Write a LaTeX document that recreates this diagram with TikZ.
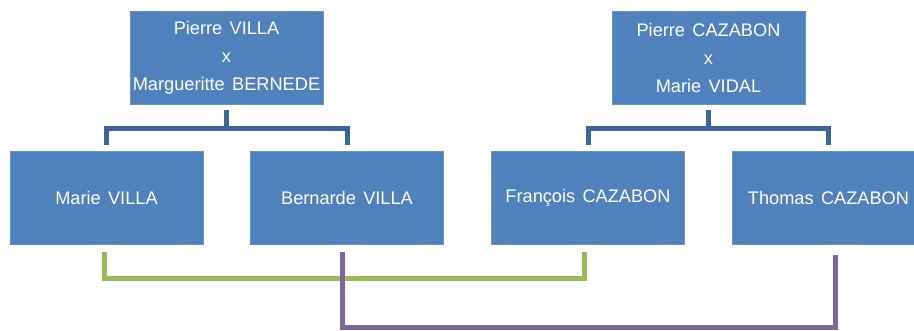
\documentclass[tikz,border=0pt]{standalone}
\usepackage{fontspec}
\setmainfont{Liberation Sans}[WordSpace={1.45,0.3,0.2}]
\definecolor{boxblue}{HTML}{4F81BD}
\definecolor{linkblue}{HTML}{3C6699}
\definecolor{linkgreen}{HTML}{9BBB59}
\definecolor{linkpurple}{HTML}{8064A2}
\begin{document}
\begin{tikzpicture}[x=1pt,y=-1pt,
  person/.style={rectangle, fill=boxblue, draw=boxblue!85!white, line width=0.6pt, minimum width=193pt, minimum height=93pt, inner sep=0pt, text=white, align=center, font=\fontsize{18.2}{28}\selectfont},
  famlink/.style={draw=linkblue, line width=5pt, line join=miter, shorten <=6pt, shorten >=6pt},
  greenlink/.style={draw=linkgreen, line width=5pt, line join=miter, shorten <=7pt},
  purplelink/.style={draw=linkpurple, line width=5pt, line join=miter, shorten <=7pt, shorten >=10pt}]
\useasboundingbox (0,0) rectangle (914,330);
\fill[white] (0,0) rectangle (914,330);
\node[person] (pv) at (226.5,57.5) {Pierre VILLA\\x\\Margueritte BERNEDE};
\node[person] (pc) at (708.5,57.5) {Pierre CAZABON\\x\\Marie VIDAL};
\node[person] (mv) at (106.5,198) {Marie VILLA};
\node[person] (bv) at (347,198) {Bernarde VILLA};
\node[person] (fc) at (588,198) {François CAZABON};
\node[person] (tc) at (828.5,198) {Thomas CAZABON};
\draw[famlink] (pv.south) -- ++(0,24) -| (mv.north);
\draw[famlink] (pv.south) -- ++(0,24) -| (bv.north);
\draw[famlink] (pc.south) -- ++(0,24) -| (fc.north);
\draw[famlink] (pc.south) -- ++(0,24) -| (tc.north);
\coordinate (gl) at ([xshift=-2pt]mv.south);
\coordinate (gr) at ([xshift=-4pt]fc.south);
\draw[greenlink, shorten >=7pt] (gl) -- ++(0,34) -| (gr);
\coordinate (pl) at ([xshift=-5pt]bv.south);
\coordinate (pr) at ([xshift=7pt]tc.south);
\draw[purplelink] (pl) -- ++(0,82.5) -| (pr);
\end{tikzpicture}
\end{document}
